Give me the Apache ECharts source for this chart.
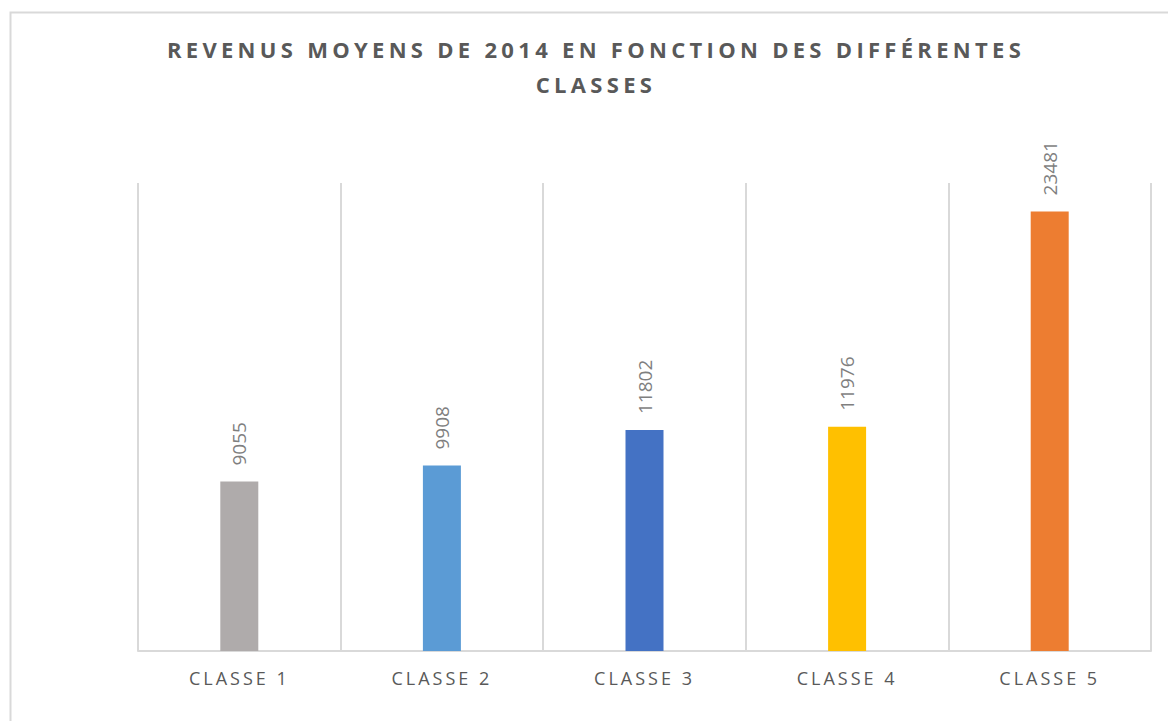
<!DOCTYPE html>
<html lang="fr">
<head>
<meta charset="utf-8">
<title>Revenus moyens de 2014</title>
<script src="https://cdn.jsdelivr.net/npm/echarts@6/dist/echarts.min.js"></script>
<style>
  html, body { margin: 0; padding: 0; background: #ffffff; }
  #chart { width: 1168px; height: 721px; }
  /* tracked capitals for the title and the category names */
  #chart svg text[style*="22px"], #chart svg text[style*="22px"] tspan { letter-spacing: 4.3px; }
  #chart svg text[style*="18px"], #chart svg text[style*="18px"] tspan { letter-spacing: 3px; }
</style>
</head>
<body>
<div id="chart"></div>
<script>
// Revenu moyen 2014 par classe
const titleLines = ['REVENUS MOYENS DE 2014 EN FONCTION DES DIFFÉRENTES', 'CLASSES'];
const categories = ['CLASSE 1', 'CLASSE 2', 'CLASSE 3', 'CLASSE 4', 'CLASSE 5'];
const revenus = [9055, 9908, 11802, 11976, 23481];
const barColors = ['#AFABAB', '#5B9BD5', '#4472C4', '#FFC000', '#ED7D31'];

const chart = echarts.init(document.getElementById('chart'), null, { renderer: 'svg' });

const FONT = '"Open Sans", "Noto Sans", sans-serif';
const GRID_COLOR = '#D9D9D9';

chart.setOption({
  animation: false,
  backgroundColor: '#ffffff',
  title: {
    text: titleLines.join('\n'),
    left: 596,
    textAlign: 'center',
    top: 31,
    padding: 0,
    textStyle: {
      fontFamily: FONT,
      fontSize: 22,
      fontWeight: 'bold',
      color: '#595959',
      lineHeight: 35
    }
  },
  graphic: [{
    type: 'rect',
    left: 8,
    top: 10,
    shape: { width: 1300, height: 900 },
    style: { fill: 'none', stroke: GRID_COLOR, lineWidth: 2 },
    silent: true,
    z: -1
  }],
  grid: { left: 138, right: 17, top: 183, bottom: 70, containLabel: false },
  xAxis: {
    type: 'category',
    data: categories,
    boundaryGap: true,
    axisLine: { show: true, lineStyle: { color: GRID_COLOR, width: 2 } },
    axisTick: { show: false },
    splitLine: { show: true, interval: 0, lineStyle: { color: GRID_COLOR, width: 2 } },
    axisLabel: {
      interval: 0,
      margin: 18,
      fontFamily: FONT,
      fontSize: 18,
      color: '#595959'
    }
  },
  yAxis: {
    type: 'value',
    min: 0,
    max: 25000,
    show: false,
    splitLine: { show: false }
  },
  series: [{
    type: 'bar',
    barWidth: 38,
    data: revenus.map((v, i) => ({ value: v, itemStyle: { color: barColors[i] } })),
    label: {
      show: true,
      position: 'top',
      rotate: 90,
      align: 'left',
      verticalAlign: 'middle',
      distance: 16,
      fontFamily: FONT,
      fontSize: 19,
      color: '#7F7F7F'
    }
  }]
});
</script>
</body>
</html>
